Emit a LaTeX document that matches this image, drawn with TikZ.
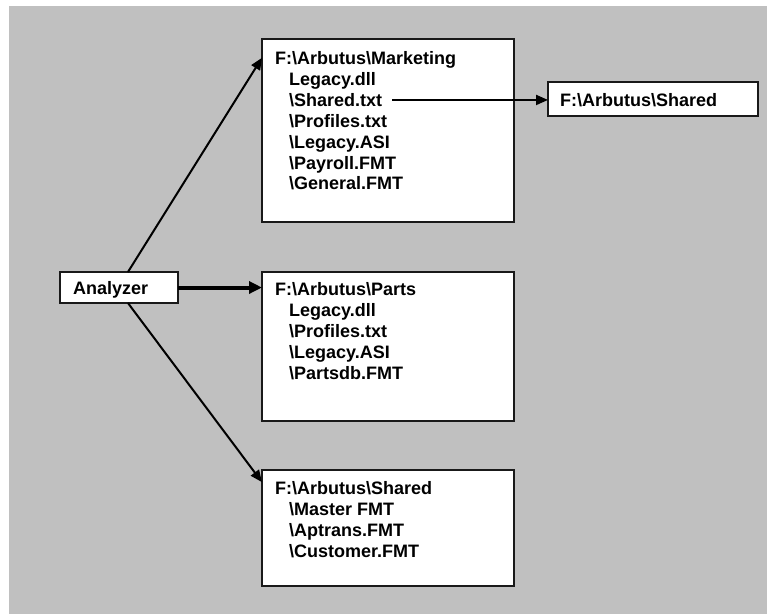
\documentclass[tikz,border=0pt]{standalone}
\usepackage{fontspec}
\setmainfont{Liberation Sans}
\usetikzlibrary{calc,arrows.meta,positioning}
\definecolor{bggray}{RGB}{192,192,192}
\tikzset{
    folder/.style={
    rectangle,draw=black!90,line width=1.4pt,fill=white,inner sep=0pt,outer sep=0pt
    },
    entry/.style={
    anchor=base west,inner sep=0pt,font=\bfseries\fontsize{18}{21}\selectfont
    },
    link/.style={
    draw=black,line width=2pt,-{Triangle[length=12pt,width=10pt]}
    },
}

\begin{document}
\begin{tikzpicture}[x=1pt, y=-1pt]
  \useasboundingbox (0,0) rectangle (767,614);
  \fill[white] (0,0) rectangle (767,614);
  \fill[bggray] (9,6) rectangle (767,614);

  % boxes
  \node[folder,minimum width=118pt,minimum height=31pt] (ANL) at (119,287.5) {};
  \node[folder,minimum width=252pt,minimum height=183pt] (MKT) at (388,130.5) {};
  \node[folder,minimum width=210pt,minimum height=34pt] (SHR) at (653,99) {};
  \node[folder,minimum width=252pt,minimum height=149pt] (PRT) at (388,346.5) {};
  \node[folder,minimum width=252pt,minimum height=116pt] (SHD) at (388,528) {};

  % texts
  \node[entry] (ANLtxt) at (73,294) {Analyzer};
  \node[entry] (SHRtxt) at (560,106) {F:\textbackslash Arbutus\textbackslash Shared};

  \node[entry] (MKT0) at (275,64.5) {F:\textbackslash Arbutus\textbackslash Marketing};
  \foreach \txt [count=\i] in {Legacy.dll,\textbackslash Shared.txt,\textbackslash Profiles.txt,
      \textbackslash Legacy.ASI,\textbackslash Payroll.FMT,\textbackslash General.FMT}
    \node[entry] (MKT\i) at (289,{64.5+20.9*\i}) {\txt};

  \node[entry] (PRT0) at (275,295) {F:\textbackslash Arbutus\textbackslash Parts};
  \foreach \txt [count=\i] in {Legacy.dll,\textbackslash Profiles.txt,
      \textbackslash Legacy.ASI,\textbackslash Partsdb.FMT}
    \node[entry] (PRT\i) at (289,{295+21.2*\i}) {\txt};

  \node[entry] (SHD0) at (275,494) {F:\textbackslash Arbutus\textbackslash Shared};
  \foreach \txt [count=\i] in {\textbackslash Master FMT,\textbackslash Aptrans.FMT,
      \textbackslash Customer.FMT}
    \node[entry] (SHD\i) at (289,{494+21*\i}) {\txt};

  % connectors
  \draw[link] (ANL.60) -- (MKT.150);
  \draw[link] (ANL.-60) -- (SHD.160);
  \draw[link,line width=4pt,-{Triangle[length=13pt,width=12pt]}] (ANL.east) -- (ANL.east -| PRT.west);
  \draw[link,shorten <=10pt] (MKT2.east) -- (MKT2.east -| SHR.west);
\end{tikzpicture}
\end{document}
